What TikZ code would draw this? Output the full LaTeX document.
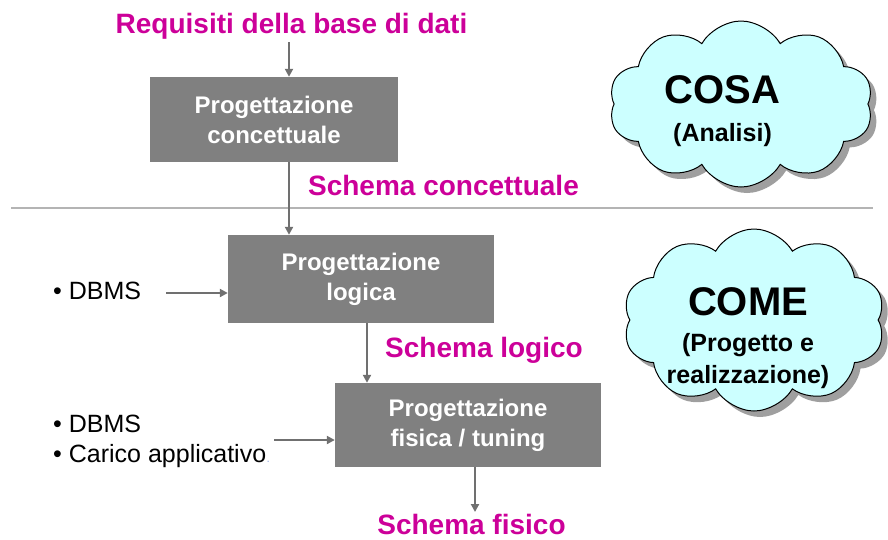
\documentclass[tikz,border=0pt]{standalone}
\usepackage{fontspec}
\setmainfont{Liberation Sans}
\usetikzlibrary{shapes.symbols,shadows,arrows.meta}
\definecolor{mag}{RGB}{204,0,153}
\definecolor{boxgray}{RGB}{128,128,128}
\definecolor{arrgray}{RGB}{112,112,112}
\definecolor{cloudfill}{RGB}{204,255,255}
\definecolor{sepgray}{RGB}{180,180,180}
\begin{document}
\begin{tikzpicture}[x=1pt,y=-1pt,
  stepbox/.style={fill=boxgray, text=white, font=\bfseries\fontsize{24}{30}\selectfont, align=center, inner sep=0pt},
  maglabel/.style={text=mag, font=\bfseries\fontsize{28}{33}\selectfont, anchor=base, inner sep=0pt},
  plainlabel/.style={font=\fontsize{25}{30}\selectfont, anchor=base west, inner sep=0pt},
  cloudtitle/.style={font=\bfseries\fontsize{40}{48}\selectfont, anchor=base, inner sep=0pt},
  cloudsub/.style={font=\bfseries\fontsize{25}{30}\selectfont, anchor=base, inner sep=0pt},
  arr/.style={draw=arrgray, line width=2pt, -{Triangle[length=8pt,width=8pt]}},
  cloudshape/.style={cloud, cloud puffs=10, cloud puff arc=120, draw=black, line width=1pt, fill=cloudfill, inner sep=0pt,
     drop shadow={shadow xshift=6pt, shadow yshift=-6pt, fill=gray!75, opacity=1}}
]
\useasboundingbox (0,0) rectangle (888,539);

% separator
\draw[sepgray, line width=2.5pt] (11,208) -- (873,208);

% clouds
\node[cloudshape, minimum width=264pt, minimum height=166pt] (cl1) at (741,104) {};
\node[cloudshape, minimum width=262pt, minimum height=182pt] (cl2) at (754,320) {};
\node[cloudtitle] (cosa) at (722.5,103) {COSA};
\node[cloudsub] (anal) at (722.5,141) {(Analisi)};
\node[cloudtitle] (come) at (748,315) {COME};
\node[cloudsub] (prog) at (748,351) {(Progetto e};
\node[cloudsub] (real) at (748,383) {realizzazione)};

% boxes
\node[stepbox, minimum width=248pt, minimum height=85pt] (b1) at (274,119.5) {Progettazione\\concettuale};
\node[stepbox, minimum width=266pt, minimum height=88pt] (b2) at (361,279) {Progettazione\\logica};
\node[stepbox, minimum width=266pt, minimum height=84pt] (b3) at (468,425) {Progettazione\\fisica / tuning};

% labels
\node[maglabel] (req) at (291.5,33) {Requisiti della base di dati};
\node[maglabel] (sc) at (443.5,195) {Schema concettuale};
\node[maglabel] (sl) at (484,357) {Schema logico};
\node[maglabel] (sf) at (471.5,534) {Schema fisico};

\node[plainlabel] (d1) at (53,299) {\textbullet\ DBMS};
\node[plainlabel] (d2) at (53,432) {\textbullet\ DBMS};
\node[plainlabel] (ca) at (53,462) {\textbullet\ Carico applicativo};
\node[anchor=base west, inner sep=0pt, text=cyan!40!blue!40, font=\fontsize{12}{14}\selectfont] (dot) at (ca.base east) {.};

% arrows
\coordinate (a0) at (289,42);
\coordinate (a1) at (289,162);
\coordinate (a2) at (367,323);
\coordinate (a3) at (475,467);
\coordinate (a3e) at (475,512);
\coordinate (l1) at (166,293);
\coordinate (l2) at (274,440);
\draw[arr] (a0) -- (a0 |- b1.north);
\draw[arr] (a1) -- (a1 |- b2.north);
\draw[arr] (a2) -- (a2 |- b3.north);
\draw[arr] (a3) -- (a3e);
\draw[arr] (l1) -- (l1 -| b2.west);
\draw[arr] (l2) -- (l2 -| b3.west);
\end{tikzpicture}
\end{document}
